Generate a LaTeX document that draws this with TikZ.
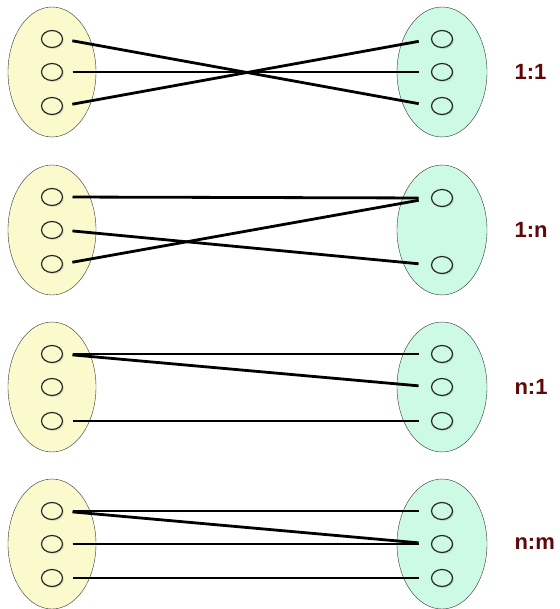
\documentclass[tikz,border=0pt]{standalone}
\usepackage{fontspec}
\setmainfont{Liberation Sans}
\usetikzlibrary{shapes.geometric,shadows}
\definecolor{setA}{RGB}{250,250,204}
\definecolor{setB}{RGB}{204,250,228}
\definecolor{cardcol}{RGB}{96,8,8}

\begin{document}
\begin{tikzpicture}[x=1pt,y=-1pt,
  setL/.style={ellipse,draw=black!80,fill=setA,minimum width=88pt,minimum height=130pt,inner sep=0pt},
  setR/.style={setL,fill=setB,minimum width=90pt},
  elem/.style={ellipse,draw=black!85,line width=1.2pt,minimum width=21pt,minimum height=17pt,inner sep=0pt,outer sep=0pt,
    drop shadow={shadow xshift=1.5pt,shadow yshift=-1.5pt,opacity=0.2}},
  link/.style={line width=2.8pt,shorten <=10pt,shorten >=13pt},
  card/.style={font=\bfseries\fontsize{22}{22}\selectfont,text=cardcol,anchor=west}]
\useasboundingbox (0,0) rectangle (559,609);

% the two sets of every row
\foreach \r/\y in {1/72,2/230,3/387,4/544}{
  \node[setL] (A\r) at (52,\y) {};
  \node[setR] (B\r) at (442,\y) {};
  \foreach \i/\d in {1/-33,2/0,3/34}
    \node[elem,fill=setA] (a\r\i) at (52,\y+\d) {};
}
\foreach \r/\y in {1/72,3/387,4/544}
  \foreach \i/\d in {1/-33,2/0,3/34}
    \node[elem,fill=setB] (b\r\i) at (442,\y+\d) {};
\node[elem,fill=setB] (b21) at (442,198) {};
\node[elem,fill=setB] (b22) at (442,265) {};

% 1:1
\draw[link] (a11.east)--(b13.west);
\draw[link] (a12.east)--(b12.west);
\draw[link] (a13.east)--(b11.west);
\node[card] (c1) at (511,72) {1:1};

% 1:n
\draw[link] (a21.east)--(b21.west);
\draw[link] (a22.east)--(b22.west);
\draw[link] (a23.east)--(b21.west);
\node[card] (c2) at (511,230) {1:n};

% n:1
\draw[link] (a31.east)--(b31.west);
\draw[link] (a31.east)--(b32.west);
\draw[link] (a33.east)--(b33.west);
\node[card] (c3) at (511,387) {n:1};

% n:m
\draw[link] (a41.east)--(b41.west);
\draw[link] (a41.east)--(b42.west);
\draw[link] (a42.east)--(b42.west);
\draw[link] (a43.east)--(b43.west);
\node[card] (c4) at (511,544) {n:m};
\end{tikzpicture}
\end{document}
